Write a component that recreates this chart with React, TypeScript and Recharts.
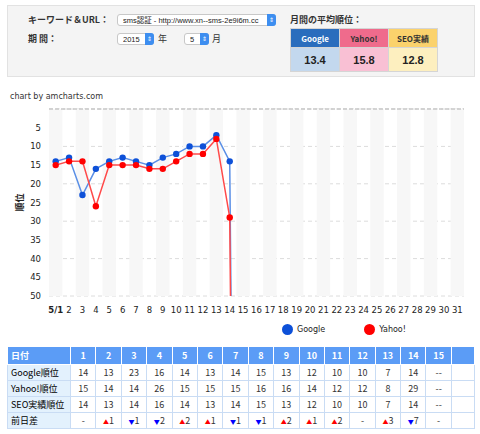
import React from "react"
import {
  LineChart,
  Line,
  XAxis,
  YAxis,
  CartesianGrid,
  ReferenceArea,
  ReferenceLine,
} from "recharts"

// days of May shown on the x axis
const DAYS = Array.from({ length: 31 }, (_, i) => i + 1)
// daily ranks read from the chart / table; day 15 has no rank ("--"),
// the feed drops it off the bottom, so it is given an out-of-range value
const GOOGLE = [14, 13, 23, 16, 14, 13, 14, 15, 13, 12, 10, 10, 7, 14, 400]
const YAHOO = [15, 14, 14, 26, 15, 15, 15, 16, 16, 14, 12, 12, 8, 29, 400]
const SEO = [14, 13, 14, 16, 14, 13, 14, 15, 13, 12, 10, 10, 7, 14]
const DIFF = ["-", "+1", "-1", "-2", "+2", "+1", "-1", "-1", "+2", "+1", "+2", "-", "+3", "-7", "-"]
const Y_TICKS = [5, 10, 15, 20, 25, 30, 35, 40, 45, 50]
const AVG = [
  { name: "Google", value: "13.4", head: "#2a6dbd", headText: "#fff", cell: "#c3d8ee" },
  { name: "Yahoo!", value: "15.8", head: "#ef6b8c", headText: "#333", cell: "#f9c0d4" },
  { name: "SEO実績", value: "12.8", head: "#fbd26c", headText: "#333", cell: "#fdefbf" },
]

const JP = '"Noto Sans CJK JP", "DejaVu Sans", sans-serif'
const TABLE_COLS = 15

const dayLabel = (d: number) => (d === 1 ? "5/1" : String(d))

const data = DAYS.map((d, i) => ({
  day: dayLabel(d),
  google: GOOGLE[i],
  yahoo: YAHOO[i],
}))

function Select({ left, top, width, text }: { left: number; top: number; width: number; text: string }) {
  return (
    <div
      style={{
        position: "absolute",
        left,
        top,
        width,
        height: 12,
        background: "#fff",
        border: "1px solid #c8c8c8",
        borderRadius: 3,
        fontSize: 7.5,
        lineHeight: "11px",
        paddingLeft: 5,
        boxSizing: "border-box",
        color: "#222",
        fontFamily: '"Liberation Sans", "Noto Sans CJK JP", sans-serif',
      }}
    >
      <div style={{ overflow: "hidden", whiteSpace: "nowrap", marginRight: 10 }}>{text}</div>
      <div
        style={{
          position: "absolute",
          right: -1,
          top: -1,
          width: 9,
          height: 12,
          background: "#3d8ef0",
          borderRadius: "0 3px 3px 0",
          color: "#fff",
          fontSize: 6,
          lineHeight: "12px",
          textAlign: "center",
        }}
      >
        ⇕
      </div>
    </div>
  )
}

function XTick(props: any) {
  const { x, y, payload } = props
  return (
    <text
      x={x}
      y={y + 9}
      textAnchor="middle"
      fontSize={8.5}
      fill="#222"
      fontWeight={payload.value === "5/1" ? 700 : 400}
      fontFamily="DejaVu Sans"
    >
      {payload.value}
    </text>
  )
}

function DiffCell({ v }: { v: string }) {
  if (v === "-") return <span>-</span>
  const up = v[0] === "+"
  return (
    <span>
      <span style={{ color: up ? "#f00" : "#00f", fontSize: 6 }}>{up ? "▲" : "▼"}</span>
      {v.slice(1)}
    </span>
  )
}

export default function App() {
  const label: React.CSSProperties = {
    position: "absolute",
    fontSize: 9,
    fontWeight: 700,
    color: "#333",
    fontFamily: JP,
  }
  const th: React.CSSProperties = {
    background: "#5b9cf6",
    color: "#fff",
    fontWeight: 700,
    border: "1px solid #fff",
    height: 17,
    lineHeight: "16px",
    padding: 0,
    textAlign: "center",
  }
  const rowHead: React.CSSProperties = {
    background: "#e3f1fd",
    border: "1px solid #c9dcf4",
    textAlign: "left",
    fontWeight: 400,
    height: 15,
    lineHeight: "13px",
    padding: "0 0 0 3px",
  }
  const td: React.CSSProperties = {
    border: "1px solid #c9dcf4",
    textAlign: "center",
    padding: 0,
    height: 15,
    lineHeight: "13px",
    color: "#333",
  }
  const rows: [string, (string | number)[]][] = [
    ["Google順位", GOOGLE.slice(0, 14)],
    ["Yahoo!順位", YAHOO.slice(0, 14)],
    ["SEO実績順位", SEO],
  ]

  return (
    <div style={{ position: "absolute", left: 0, top: 0, width: 480, height: 434, background: "#fff", fontFamily: JP }}>
      {/* filter panel */}
      <div
        style={{
          position: "absolute",
          left: 7,
          top: 5,
          width: 468,
          height: 72,
          background: "#f4f4f4",
          border: "1px solid #e2e2e2",
          boxSizing: "border-box",
        }}
      />
      <div style={{ ...label, left: 28, top: 13 }}>キーワード＆URL：</div>
      <div style={{ ...label, left: 28, top: 32 }}>期 間：</div>
      <Select left={117} top={14} width={159} text="sms認証 - http://www.xn--sms-2e9i6m.cc" />
      <Select left={117} top={33} width={37} text="2015" />
      <div style={{ ...label, left: 158, top: 32, fontWeight: 400 }}>年</div>
      <Select left={184} top={33} width={25} text="5" />
      <div style={{ ...label, left: 212, top: 32, fontWeight: 400 }}>月</div>
      <div style={{ ...label, left: 290, top: 13 }}>月間の平均順位：</div>
      <table
        style={{
          position: "absolute",
          left: 290,
          top: 28,
          borderCollapse: "collapse",
          fontFamily: JP,
          border: "1px solid #d5d5d5",
        }}
      >
        <tbody>
          <tr>
            {AVG.map((a) => (
              <td
                key={a.name}
                style={{
                  width: 48,
                  height: 18,
                  padding: 0,
                  background: a.head,
                  color: a.headText,
                  fontSize: 8,
                  fontWeight: 700,
                  textAlign: "center",
                  border: "1px solid #d5d5d5",
                }}
              >
                {a.name}
              </td>
            ))}
          </tr>
          <tr>
            {AVG.map((a) => (
              <td
                key={a.name}
                style={{
                  height: 23,
                  padding: 0,
                  background: a.cell,
                  color: "#222",
                  fontSize: 11,
                  fontWeight: 700,
                  textAlign: "center",
                  border: "1px solid #d5d5d5",
                  fontFamily: "Liberation Sans, sans-serif",
                }}
              >
                {a.value}
              </td>
            ))}
          </tr>
        </tbody>
      </table>

      <div style={{ position: "absolute", left: 10, top: 92, fontSize: 8, color: "#333", fontFamily: "DejaVu Sans" }}>
        chart by amcharts.com
      </div>

      {/* rank chart */}
      <div style={{ position: "absolute", left: 0, top: 95 }}>
        <LineChart width={480} height={225} data={data} margin={{ top: 14, right: 16, left: 19, bottom: 4 }}>
          {DAYS.filter((d) => d % 2 === 1).map((d) => (
            <ReferenceArea
              key={d}
              x1={dayLabel(d)}
              x2={dayLabel(d)}
              fill="#f7f7f7"
              fillOpacity={1}
              stroke="none"
            />
          ))}
          <CartesianGrid vertical={false} stroke="#dcdcdc" strokeDasharray="4 3" />
          <ReferenceLine y={0} stroke="#c8c8c8" strokeDasharray="4 2" strokeWidth={1.5} />
          <XAxis dataKey="day" scale="band" interval={0} tickLine={false} axisLine={false} height={20} tick={<XTick />} />
          <YAxis
            reversed
            domain={[0, 50]}
            ticks={Y_TICKS}
            allowDataOverflow
            width={30}
            tickLine={false}
            axisLine={false}
            tick={{ fontSize: 8.5, fill: "#222", fontFamily: "DejaVu Sans" }}
            label={{ value: "順位", angle: -90, position: "center", dx: -14, style: { fontSize: 9, fontWeight: 700, fill: "#222", fontFamily: JP } }}
          />
          <Line
            dataKey="google"
            stroke="#5a8fe6"
            strokeWidth={1.5}
            dot={{ r: 3.2, fill: "#0d50d8", stroke: "#0d50d8", strokeWidth: 0 }}
            isAnimationActive={false}
            connectNulls
          />
          <Line
            dataKey="yahoo"
            stroke="#ff4a4a"
            strokeWidth={1.5}
            dot={{ r: 3.2, fill: "#ff0000", stroke: "#ff0000", strokeWidth: 0 }}
            isAnimationActive={false}
            connectNulls
          />
        </LineChart>
      </div>

      {/* legend */}
      <div style={{ position: "absolute", left: 282, top: 324, display: "flex", alignItems: "center", fontSize: 8, color: "#222", fontFamily: "DejaVu Sans" }}>
        <span style={{ width: 11, height: 11, borderRadius: 6, background: "#0d50d8", display: "inline-block", marginRight: 4 }} />
        Google
        <span style={{ width: 11, height: 11, borderRadius: 6, background: "#ff0000", display: "inline-block", marginLeft: 39, marginRight: 4 }} />
        Yahoo!
      </div>

      {/* daily table */}
      <table
        style={{
          position: "absolute",
          left: 7,
          top: 346,
          width: 468,
          borderCollapse: "collapse",
          tableLayout: "fixed",
          fontSize: 9,
          fontFamily: JP,
        }}
      >
        <colgroup>
          <col style={{ width: 63 }} />
          {Array.from({ length: TABLE_COLS }, (_, i) => (
            <col key={i} style={{ width: 25.4 }} />
          ))}
          <col />
        </colgroup>
        <tbody>
          <tr>
            <td style={{ ...th, textAlign: "left", paddingLeft: 3 }}>日付</td>
            {Array.from({ length: TABLE_COLS }, (_, i) => (
              <td key={i} style={th}>
                {i + 1}
              </td>
            ))}
            <td style={th} />
          </tr>
          {rows.map(([name, vals]) => (
            <tr key={name}>
              <td style={rowHead}>{name}</td>
              {Array.from({ length: TABLE_COLS }, (_, i) => (
                <td key={i} style={td}>
                  {i < vals.length ? vals[i] : "--"}
                </td>
              ))}
              <td style={td} />
            </tr>
          ))}
          <tr>
            <td style={rowHead}>前日差</td>
            {DIFF.map((v, i) => (
              <td key={i} style={td}>
                <DiffCell v={v} />
              </td>
            ))}
            <td style={td} />
          </tr>
        </tbody>
      </table>
    </div>
  )
}
